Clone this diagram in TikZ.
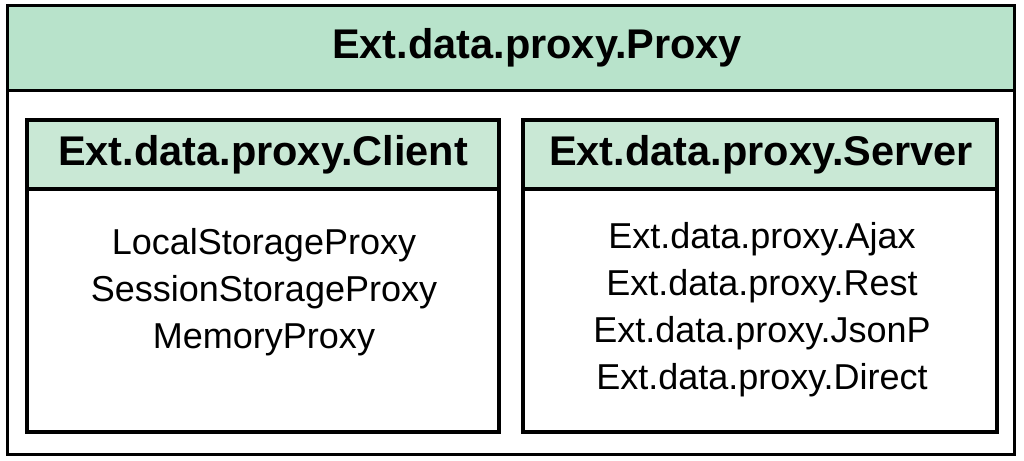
\documentclass[tikz,border=0pt]{standalone}
\usepackage{fontspec}
\setmainfont{Liberation Sans}
\usetikzlibrary{positioning}

\definecolor{headgreen}{HTML}{B8E3CB}
\definecolor{subgreen}{HTML}{C9E8D5}

\begin{document}
\begin{tikzpicture}[x=1pt,y=-1pt,
	frame/.style={draw=black,line width=3pt},
	box/.style={draw=black,line width=3.5pt},
	title/.style={font=\bfseries\fontsize{41.5}{48}\selectfont,inner sep=0pt},
	items/.style={font=\fontsize{36}{47}\selectfont,align=center,inner sep=0pt}]

\useasboundingbox (0,0) rectangle (1024,460);

% outer class
\fill[white] (7.5,6) rectangle (1014.5,454);
\fill[headgreen] (7.5,6) rectangle (1014.5,90);
\draw[frame] (7.5,90) -- (1014.5,90);
\draw[frame] (7.5,6) rectangle (1014.5,454);
\node[title] (proxy) at (537,48) {Ext.data.proxy.Proxy};

% client side
\fill[subgreen] (27,120) rectangle (499,189);
\draw[box] (27,189) -- (499,189);
\draw[box] (27,120) rectangle (499,432);
\node[title] (client) at (263,155) {Ext.data.proxy.Client};
\node[items] (clientlist) at (264,292)
	{LocalStorageProxy\\SessionStorageProxy\\MemoryProxy};

% server side
\fill[subgreen] (523,120) rectangle (997,189);
\draw[box] (523,189) -- (997,189);
\draw[box] (523,120) rectangle (997,432);
\node[title] (server) at (761,155) {Ext.data.proxy.Server};
\node[items] (serverlist) at (762,310)
	{Ext.data.proxy.Ajax\\Ext.data.proxy.Rest\\Ext.data.proxy.JsonP\\Ext.data.proxy.Direct};

\end{tikzpicture}
\end{document}
